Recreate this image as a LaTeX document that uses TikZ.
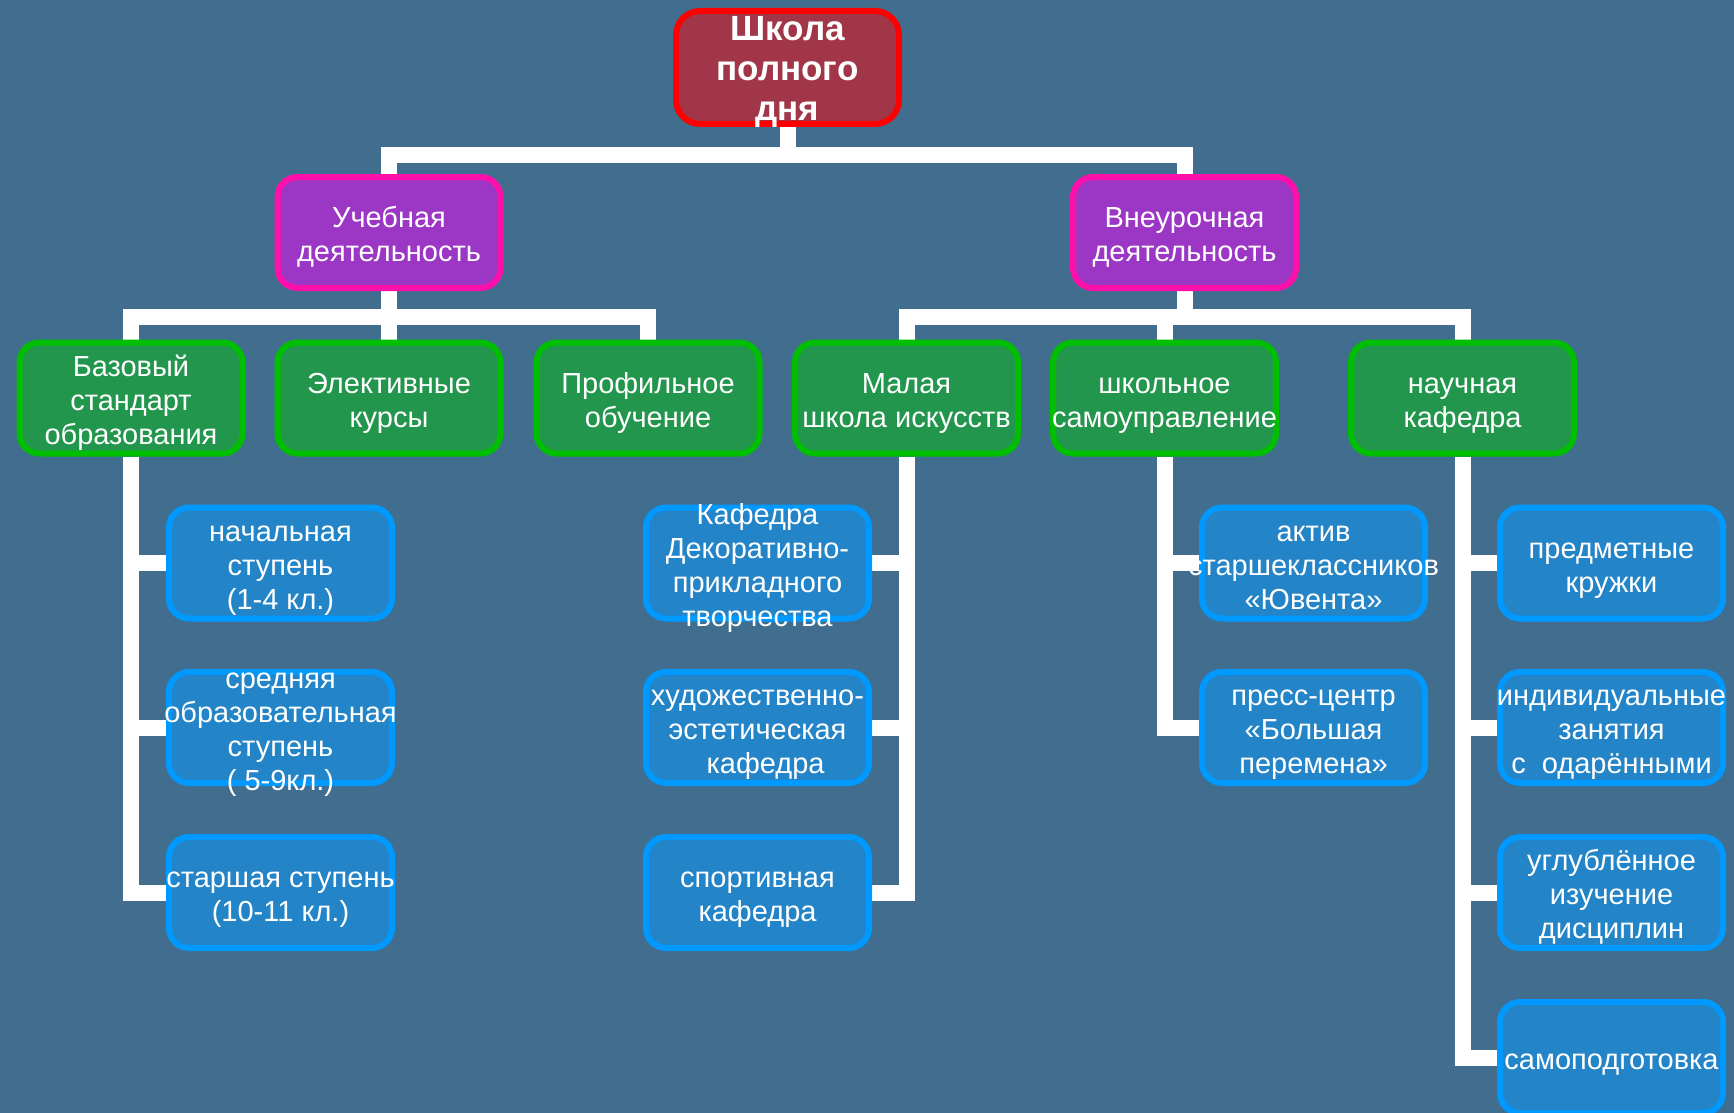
\documentclass[tikz,border=0pt]{standalone}
\usepackage{fontspec}
\setmainfont{Liberation Sans}
\definecolor{bgc}{RGB}{65,110,143}
\definecolor{topfill}{RGB}{160,54,72}
\definecolor{topline}{RGB}{255,0,0}
\definecolor{purfill}{RGB}{156,54,196}
\definecolor{purline}{RGB}{255,16,170}
\definecolor{grnfill}{RGB}{34,150,76}
\definecolor{grnline}{RGB}{0,190,0}
\definecolor{blufill}{RGB}{36,132,200}
\definecolor{bluline}{RGB}{0,153,255}
\newcommand\zl[1]{\hbox to 0pt{\hss#1\hss}}
\newcommand\lbl[1]{\smash{\raisebox{-11.5pt}{\begin{tabular}{@{}c@{}}#1\end{tabular}}}}
\pgfdeclarelayer{bg}
\pgfsetlayers{bg,main}
\begin{document}
\begin{tikzpicture}[x=1pt,y=-1pt,
  box/.style={rectangle, rounded corners=20pt, line width=6pt,
    minimum width=223pt, minimum height=111pt, inner sep=0pt,
    text=white, font=\fontsize{29pt}{34pt}\selectfont},
  topbox/.style={box, fill=topfill, draw=topline, minimum height=113pt,
    rounded corners=24pt, font=\bfseries\fontsize{35pt}{40pt}\selectfont},
  lvltwo/.style={box, fill=purfill, draw=purline},
  lvlthree/.style={box, fill=grnfill, draw=grnline},
  lvlfour/.style={box, fill=blufill, draw=bluline},
  conn/.style={draw=white, line width=16pt}]
\useasboundingbox (0,0) rectangle (1734,1113);

% level 1
\node[topbox] (top) at (787.5,67.5) {\lbl{\zl{Школа}\\\zl{полного}\\\zl{дня}}};
% level 2
\node[lvltwo] (ucheb) at (389,232.5) {\lbl{\zl{Учебная}\\\zl{деятельность}}};
\node[lvltwo] (vneur) at (1184.5,232.5) {\lbl{\zl{Внеурочная}\\\zl{деятельность}}};
% level 3
\node[lvlthree] (baz) at (131,398) {\lbl{\zl{Базовый}\\\zl{стандарт}\\\zl{образования}}};
\node[lvlthree] (elek) at (389,398) {\lbl{\zl{Элективные}\\\zl{курсы}}};
\node[lvlthree] (prof) at (648,398) {\lbl{\zl{Профильное}\\\zl{обучение}}};
\node[lvlthree] (mal) at (906.5,398) {\lbl{\zl{Малая}\\\zl{школа искусств}}};
\node[lvlthree] (shk) at (1164.5,398) {\lbl{\zl{школьное}\\\zl{самоуправление}}};
\node[lvlthree] (nauch) at (1462.5,398) {\lbl{\zl{научная}\\\zl{кафедра}}};
% level 4, left
\node[lvlfour] (nach) at (280.5,563) {\lbl{\zl{начальная}\\\zl{ступень}\\\zl{(1-4 кл.)}}};
\node[lvlfour] (sred) at (280.5,727.5) {\lbl{\zl{средняя}\\\zl{образовательная}\\\zl{ступень}\\\zl{( 5-9кл.)}}};
\node[lvlfour] (star) at (280.5,892.5) {\lbl{\zl{старшая ступень}\\\zl{(10-11 кл.)}}};
% level 4, middle
\node[lvlfour] (kaf) at (757.5,563) {\lbl{\zl{Кафедра}\\\zl{Декоративно-}\\\zl{прикладного}\\\zl{творчества}}};
\node[lvlfour] (hud) at (757.5,727.5) {\lbl{\zl{художественно-}\\\zl{эстетическая}\\\zl{\ \ кафедра}}};
\node[lvlfour] (sport) at (757.5,892.5) {\lbl{\zl{спортивная}\\\zl{кафедра}}};
% level 4, school
\node[lvlfour] (aktiv) at (1313.5,563) {\lbl{\zl{актив}\\\zl{старшеклассников}\\\zl{«Ювента»}}};
\node[lvlfour] (press) at (1313.5,727.5) {\lbl{\zl{пресс-центр}\\\zl{«Большая}\\\zl{перемена»}}};
% level 4, science
\node[lvlfour] (kruz) at (1611.5,563) {\lbl{\zl{предметные}\\\zl{кружки}}};
\node[lvlfour] (indiv) at (1611.5,727.5) {\lbl{\zl{индивидуальные}\\\zl{занятия}\\\zl{с\ \ одарёнными}}};
\node[lvlfour] (uglub) at (1611.5,892.5) {\lbl{\zl{углублённое}\\\zl{изучение}\\\zl{дисциплин}}};
\node[lvlfour] (samo) at (1611.5,1057.5) {\lbl{\zl{самоподготовка}}};

\begin{pgfonlayer}{bg}
  \fill[bgc] (0,0) rectangle (1734,1113);
  % level 1 -> 2
  \path (top.south) ++(0,28) coordinate (b1);
  \draw[conn] (top.south) -- (b1) -| (ucheb.north);
  \draw[conn] (b1) -| (vneur.north);
  % level 2 -> 3
  \path (ucheb.south) ++(0,26) coordinate (b2);
  \draw[conn] (ucheb.south) -- (b2) -| (baz.north);
  \draw[conn] (b2) -| (prof.north);
  \draw[conn] (b2) -- (elek.north);
  \path (vneur.south) ++(0,26) coordinate (b3);
  \draw[conn] (vneur.south) -- (b3) -| (mal.north);
  \draw[conn] (b3) -| (nauch.north);
  \draw[conn] (b3) -| (shk.north);
  % level 3 -> 4
  \draw[conn] (baz.south) |- (nach.west);
  \draw[conn] (baz.south) |- (sred.west);
  \draw[conn] (baz.south) |- (star.west);
  \draw[conn] (mal.south) |- (kaf.east);
  \draw[conn] (mal.south) |- (hud.east);
  \draw[conn] (mal.south) |- (sport.east);
  \draw[conn] (shk.south) |- (aktiv.west);
  \draw[conn] (shk.south) |- (press.west);
  \draw[conn] (nauch.south) |- (kruz.west);
  \draw[conn] (nauch.south) |- (indiv.west);
  \draw[conn] (nauch.south) |- (uglub.west);
  \draw[conn] (nauch.south) |- (samo.west);
\end{pgfonlayer}
\end{tikzpicture}
\end{document}
